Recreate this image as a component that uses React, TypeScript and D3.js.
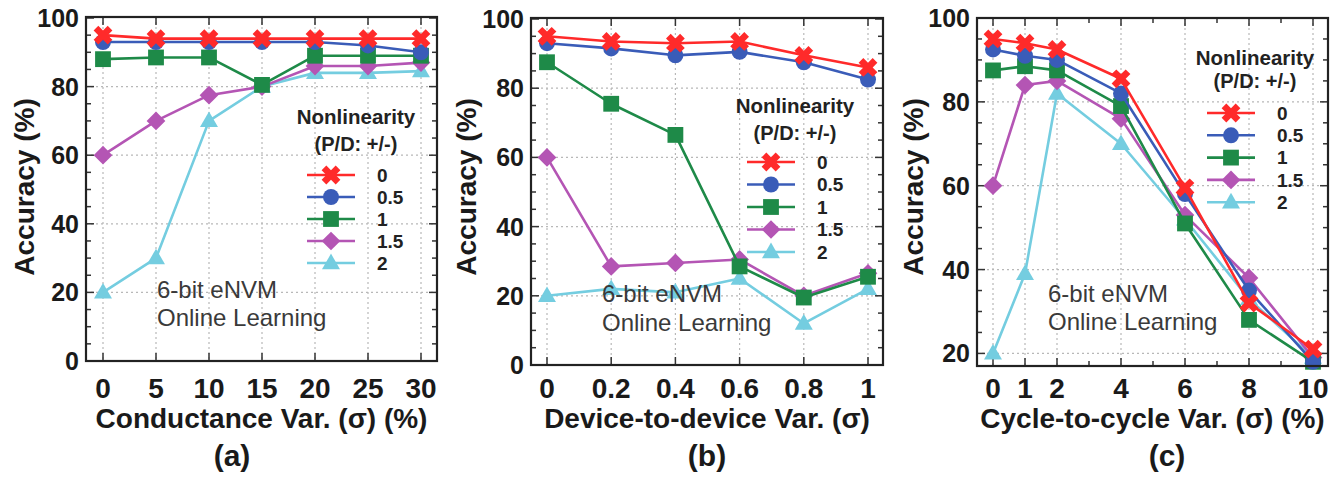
import { useEffect, useRef } from 'react'
import * as d3 from 'd3'

// ─── Data ────────────────────────────────────────────────────────────────────

const nonlinearity = ['0', '0.5', '1', '1.5', '2']
const seriesColors = ['#ff2a2a', '#3a5cb8', '#1e8a48', '#b455b4', '#74cde0']

// (a) conductance variation
const conductanceVar = [0, 5, 10, 15, 20, 25, 30]
const conductanceAcc = [
  [95, 94, 94, 94, 94, 94, 94],
  [93, 93, 93, 93, 93, 92, 90],
  [88, 88.5, 88.5, 80.5, 89, 89, 89],
  [60, 70, 77.5, 80, 86, 86, 87],
  [20, 30, 70, 80, 84, 84, 84.5],
]

// (b) device-to-device variation
const d2dVar = [0, 0.2, 0.4, 0.6, 0.8, 1]
const d2dAcc = [
  [95, 93.5, 93, 93.5, 89.5, 86],
  [93, 91.5, 89.5, 90.5, 87.5, 82.5],
  [87.5, 75.5, 66.5, 28.5, 19.5, 25.5],
  [60, 28.5, 29.5, 30.5, 20, 26.5],
  [20, 22, 21, 25, 12, 22],
]

// (c) cycle-to-cycle variation
const c2cVar = [0, 1, 2, 4, 6, 8, 10]
const c2cAcc = [
  [95, 94, 92.5, 85.5, 59.5, 32, 21],
  [92.5, 91, 90, 82, 58, 35, 18],
  [87.5, 88.5, 87.5, 79, 51, 28, 18],
  [60, 84, 85, 76, 53, 38, 19],
  [20, 39, 82, 70, 52, 33, 19],
]

// ─── Layout ──────────────────────────────────────────────────────────────────

const W = 1341
const H = 477
const FONT = '"Liberation Sans", Arial, Helvetica, sans-serif'

interface Panel {
  xs: number[]
  acc: number[][]
  xMinor: number[]
  yTicks: number[]
  yMinor: number[]
  frame: { x0: number; x1: number; y0: number; y1: number }
  xPx: [number, number]
  yDomain: [number, number]
  yPx: [number, number]
  xTitle: string
  tag: string
  tagX: number
  yTitleX: number
  legend: { lx: number; cx: number; h1: number; h2: number; row0: number; dy: number }
  note: { x: number; y1: number; y2: number }
}

const panels: Panel[] = [
  {
    xs: conductanceVar,
    acc: conductanceAcc,
    xMinor: conductanceVar,
    yTicks: [0, 20, 40, 60, 80, 100],
    yMinor: d3.range(0, 101, 5),
    frame: { x0: 86, x1: 437, y0: 17, y1: 361 },
    xPx: [103, 421],
    yDomain: [0, 100],
    yPx: [361, 18],
    xTitle: 'Conductance Var. (σ) (%)',
    tag: '(a)',
    tagX: 232,
    yTitleX: 34,
    legend: { lx: 307, cx: 356, h1: 124, h2: 151, row0: 175, dy: 22 },
    note: { x: 157, y1: 298, y2: 326 },
  },
  {
    xs: d2dVar,
    acc: d2dAcc,
    xMinor: d2dVar,
    yTicks: [0, 20, 40, 60, 80, 100],
    yMinor: d3.range(0, 101, 5),
    frame: { x0: 531, x1: 883, y0: 18, y1: 365 },
    xPx: [547, 868],
    yDomain: [0, 100],
    yPx: [365, 19],
    xTitle: 'Device-to-device Var. (σ)',
    tag: '(b)',
    tagX: 707,
    yTitleX: 476,
    legend: { lx: 747, cx: 795, h1: 113, h2: 140, row0: 162, dy: 22.5 },
    note: { x: 602, y1: 302, y2: 331 },
  },
  {
    xs: c2cVar,
    acc: c2cAcc,
    xMinor: d3.range(0, 11, 1),
    yTicks: [20, 40, 60, 80, 100],
    yMinor: d3.range(20, 101, 5),
    frame: { x0: 977, x1: 1328, y0: 18, y1: 366 },
    xPx: [993, 1313],
    yDomain: [17, 100],
    yPx: [366, 18],
    xTitle: 'Cycle-to-cycle Var. (σ) (%)',
    tag: '(c)',
    tagX: 1167,
    yTitleX: 923,
    legend: { lx: 1207, cx: 1255, h1: 65, h2: 88, row0: 113, dy: 22.3 },
    note: { x: 1048, y1: 302, y2: 330 },
  },
]

// ─── Markers ─────────────────────────────────────────────────────────────────

const markerPaths = [
  d3.symbol(d3.symbolCross, 220)()!,
  d3.symbol(d3.symbolCircle, 200)()!,
  d3.symbol(d3.symbolSquare, 250)()!,
  d3.symbol(d3.symbolSquare, 175)()!,
  d3.symbol(d3.symbolTriangle, 140)()!,
]
const markerRotate = [45, 0, 0, 45, 0]

function drawMarker(
  g: d3.Selection<SVGGElement, unknown, null, undefined>,
  i: number,
  x: number,
  y: number,
) {
  g.append('path')
    .attr('d', markerPaths[i])
    .attr('transform', `translate(${x},${y}) rotate(${markerRotate[i]})${i === 4 ? ' translate(0,1)' : ''}`)
    .attr('fill', seriesColors[i])
}

// ─── Component ───────────────────────────────────────────────────────────────

export default function App() {
  const ref = useRef<SVGSVGElement>(null)

  useEffect(() => {
    if (!ref.current) return
    const svg = d3.select(ref.current)
    svg.selectAll('*').remove()
    panels.forEach((p) => renderPanel(ref.current!, p))
  }, [])

  return (
    <svg
      ref={ref}
      width={W}
      height={H}
      viewBox={`0 0 ${W} ${H}`}
      style={{ position: 'absolute', left: 0, top: 0, background: '#fff', fontFamily: FONT }}
    />
  )
}

function renderPanel(el: SVGSVGElement, p: Panel) {
  const svg = d3.select(el)
  const g = svg.append('g') as unknown as d3.Selection<SVGGElement, unknown, null, undefined>
  const { frame: f } = p

  const x = d3.scaleLinear().domain([p.xs[0], p.xs[p.xs.length - 1]]).range(p.xPx)
  const y = d3.scaleLinear().domain(p.yDomain).range(p.yPx)

  // dotted grid
  p.xs.forEach((v) => {
    g.append('line')
      .attr('x1', x(v)).attr('x2', x(v))
      .attr('y1', f.y0).attr('y2', f.y1)
      .attr('stroke', '#b8b8b8').attr('stroke-width', 1.2).attr('stroke-dasharray', '2,3')
  })
  p.yTicks.filter((v) => v < 100 && y(v) < f.y1 - 2).forEach((v) => {
    g.append('line')
      .attr('x1', f.x0).attr('x2', f.x1)
      .attr('y1', y(v)).attr('y2', y(v))
      .attr('stroke', '#b8b8b8').attr('stroke-width', 1.2).attr('stroke-dasharray', '2,3')
  })

  // ticks on all four sides
  const tickStroke = '#333'
  p.yMinor.forEach((v) => {
    const len = p.yTicks.includes(v) ? 8 : 5
    const yy = y(v)
    if (yy < f.y0 + 1 || yy > f.y1 - 1) return
    g.append('line').attr('x1', f.x0).attr('x2', f.x0 + len).attr('y1', yy).attr('y2', yy)
      .attr('stroke', tickStroke).attr('stroke-width', 1.5)
    g.append('line').attr('x1', f.x1).attr('x2', f.x1 - len).attr('y1', yy).attr('y2', yy)
      .attr('stroke', tickStroke).attr('stroke-width', 1.5)
  })
  p.xMinor.forEach((v) => {
    const len = p.xs.includes(v) ? 8 : 5
    const xx = x(v)
    g.append('line').attr('x1', xx).attr('x2', xx).attr('y1', f.y1).attr('y2', f.y1 - len)
      .attr('stroke', tickStroke).attr('stroke-width', 1.5)
    g.append('line').attr('x1', xx).attr('x2', xx).attr('y1', f.y0).attr('y2', f.y0 + len)
      .attr('stroke', tickStroke).attr('stroke-width', 1.5)
  })

  // series (drawn back to front so "0" sits on top)
  const line = d3.line<[number, number]>().x((d) => x(d[0])).y((d) => y(d[1]))
  for (let i = p.acc.length - 1; i >= 0; i--) {
    const pts = p.xs.map((v, k) => [v, p.acc[i][k]] as [number, number])
    g.append('path')
      .attr('d', line(pts))
      .attr('fill', 'none')
      .attr('stroke', seriesColors[i])
      .attr('stroke-width', 2.6)
      .attr('stroke-linejoin', 'round')
    pts.forEach(([vx, vy]) => drawMarker(g, i, x(vx), y(vy)))
  }

  // frame
  g.append('rect')
    .attr('x', f.x0).attr('y', f.y0)
    .attr('width', f.x1 - f.x0).attr('height', f.y1 - f.y0)
    .attr('fill', 'none').attr('stroke', '#222').attr('stroke-width', 2.2)

  // annotation
  const note = g.append('text')
    .attr('font-size', 24)
    .attr('fill', '#3a3a3a')
    .attr('font-family', FONT)
  note.append('tspan').attr('x', p.note.x).attr('y', p.note.y1).text('6-bit eNVM')
  note.append('tspan').attr('x', p.note.x).attr('y', p.note.y2).text('Online Learning')

  // legend
  const L = p.legend
  g.append('text')
    .attr('x', L.cx).attr('y', L.h1)
    .attr('text-anchor', 'middle').attr('font-size', 20.5).attr('font-weight', 'bold')
    .attr('fill', '#222').attr('font-family', FONT)
    .text('Nonlinearity')
  g.append('text')
    .attr('x', L.cx).attr('y', L.h2)
    .attr('text-anchor', 'middle').attr('font-size', 20).attr('font-weight', 'bold')
    .attr('fill', '#222').attr('font-family', FONT)
    .text('(P/D: +/-)')
  nonlinearity.forEach((name, i) => {
    const ry = L.row0 + i * L.dy
    g.append('line')
      .attr('x1', L.lx).attr('x2', L.lx + 48)
      .attr('y1', ry).attr('y2', ry)
      .attr('stroke', seriesColors[i]).attr('stroke-width', 2.6)
    drawMarker(g, i, L.lx + 24, ry)
    g.append('text')
      .attr('x', L.lx + 70).attr('y', ry)
      .attr('dy', '0.35em')
      .attr('font-size', 19).attr('font-weight', 'bold')
      .attr('fill', '#222').attr('font-family', FONT)
      .text(name)
  })

  // y tick labels
  p.yTicks.forEach((v) => {
    g.append('text')
      .attr('x', f.x0 - 7).attr('y', y(v))
      .attr('dy', '0.36em')
      .attr('text-anchor', 'end')
      .attr('font-size', 25).attr('font-weight', 'bold')
      .attr('fill', '#1a1a1a').attr('font-family', FONT)
      .text(`${v}`)
  })

  // x tick labels
  p.xs.forEach((v) => {
    g.append('text')
      .attr('x', x(v)).attr('y', 398)
      .attr('text-anchor', 'middle')
      .attr('font-size', 28).attr('font-weight', 'bold')
      .attr('fill', '#1a1a1a').attr('font-family', FONT)
      .text(`${v}`)
  })

  // axis titles
  g.append('text')
    .attr('x', (f.x0 + f.x1) / 2).attr('y', 428)
    .attr('text-anchor', 'middle')
    .attr('font-size', 28).attr('font-weight', 'bold')
    .attr('fill', '#1a1a1a').attr('font-family', FONT)
    .text(p.xTitle)
  g.append('text')
    .attr('transform', `translate(${p.yTitleX},187) rotate(-90)`)
    .attr('text-anchor', 'middle')
    .attr('font-size', 28).attr('font-weight', 'bold')
    .attr('fill', '#1a1a1a').attr('font-family', FONT)
    .text('Accuracy (%)')
  g.append('text')
    .attr('x', p.tagX).attr('y', 466)
    .attr('text-anchor', 'middle')
    .attr('font-size', 30).attr('font-weight', 'bold')
    .attr('fill', '#1a1a1a').attr('font-family', FONT)
    .text(p.tag)
}
